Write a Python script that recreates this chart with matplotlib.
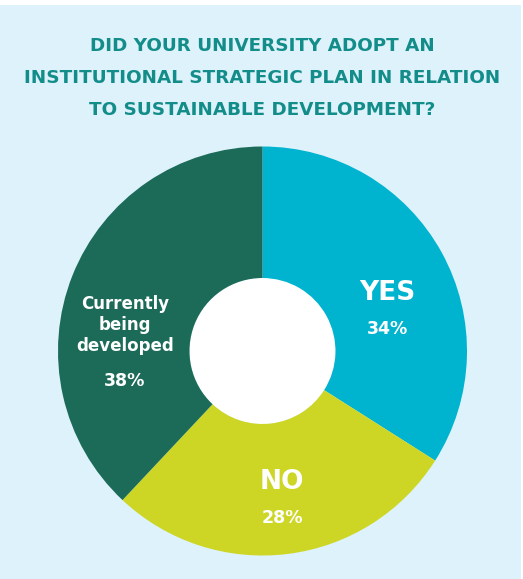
import matplotlib
matplotlib.use("Agg")
import matplotlib.pyplot as plt

categories = ["YES", "NO", "Currently\nbeing\ndeveloped"]
values = [34, 28, 38]
colors = ["#00b3cf", "#cdd624", "#1b6b58"]
title_lines = ["DID YOUR UNIVERSITY ADOPT AN",
               "INSTITUTIONAL STRATEGIC PLAN IN RELATION",
               "TO SUSTAINABLE DEVELOPMENT?"]

W, H = 523, 579
fig = plt.figure(figsize=(W / 100, H / 100), dpi=100)
fig.patch.set_facecolor("white")
ax = fig.add_axes([0, 0, 1, 1])
ax.set_xlim(0, W)
ax.set_ylim(0, H)
ax.axis("off")
ax.add_patch(plt.Rectangle((0, 0), W - 2, H - 5, facecolor="#def2fb", edgecolor="none", zorder=0))

cx, cy, r = 262.5, H - 351, 204.5
wedges, _ = ax.pie(values, colors=colors, startangle=90, counterclock=False,
                   center=(cx, cy), radius=r, frame=True,
                   wedgeprops=dict(width=r - 73, edgecolor="none"))
ax.add_patch(plt.Circle((cx, cy), 73, facecolor="white", edgecolor="none", zorder=0.5))
ax.set_xlim(0, W)
ax.set_ylim(0, H)
ax.set_aspect("equal")
ax.axis("off")

fam = ["DejaVu Sans"]
tc = "#138d8a"
for i, (line, y) in enumerate(zip(title_lines, [46, 78, 110])):
    ax.text(W / 2 + 0.5, H - y, line, ha="center", va="center", fontsize=13.2,
            fontweight="bold", color=tc, family=fam)

ax.text(387, H - 293, categories[0], ha="center", va="center", fontsize=19,
        fontweight="bold", color="white", family=fam)
ax.text(387, H - 329, f"{values[0]}%", ha="center", va="center", fontsize=12.5,
        fontweight="bold", color="white", family=fam)
ax.text(282, H - 482, categories[1], ha="center", va="center", fontsize=19,
        fontweight="bold", color="white", family=fam)
ax.text(282, H - 518, f"{values[1]}%", ha="center", va="center", fontsize=12.5,
        fontweight="bold", color="white", family=fam)
ax.text(125, H - 325, categories[2], ha="center", va="center", fontsize=12,
        fontweight="bold", color="white", family=fam, linespacing=1.2)
ax.text(125, H - 381, f"{values[2]}%", ha="center", va="center", fontsize=12.5,
        fontweight="bold", color="white", family=fam)

fig.savefig("out.png", dpi=100, facecolor=fig.get_facecolor())
